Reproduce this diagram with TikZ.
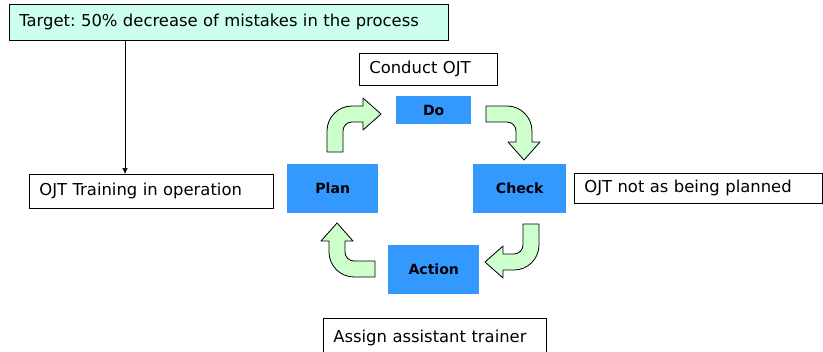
\documentclass[tikz,border=0pt]{standalone}
\usepackage{fontspec}
\setmainfont{DejaVu Sans}
\usetikzlibrary{arrows.meta}
\frenchspacing
\definecolor{mint}{RGB}{204,255,238}
\definecolor{pdcablue}{RGB}{51,153,255}
\definecolor{bendgreen}{RGB}{204,255,204}
\tikzset{
  note/.style={draw, fill=white, line width=0.6pt, anchor=north west, align=left,
    inner xsep=0.3cm, inner ysep=0pt, font=\fontsize{14}{16}\selectfont},
  pdcabox/.style={fill=pdcablue, anchor=north west, inner sep=0pt,
    font=\fontsize{12}{14}\selectfont\bfseries},
  bendfill/.style={draw, fill=bendgreen, line width=0.7pt, line join=round},
  bentarrow/.pic={
    \draw[bendfill] (-8,38) -- (-8,17) .. controls (-8,3.2) and (3.2,-8) .. (17,-8)
      -- (28,-8) -- (28,-16) -- (46,0) -- (28,16) -- (28,8) -- (17,8)
      .. controls (12,8) and (8,12) .. (8,17) -- (8,38) -- cycle;
  }
}

\begin{document}
\begin{tikzpicture}[x=0.03cm, y=-0.03cm, >={Latex[length=5pt,width=4.5pt]}]
    \clip (0,0) rectangle (823,351);
    % Target and notes
    \node[note, fill=mint, text width=12.57cm, minimum height=1.08cm] (target) at (9,4)
      {Target: 50\% decrease of mistakes in the process};
    \node[note, text width=6.72cm, minimum height=1.02cm] (training) at (29,174)
      {OJT Training in operation};
    \node[note, text width=3.54cm, minimum height=0.96cm] (conduct) at (359,53) {Conduct OJT};
    \node[note, text width=6.84cm, minimum height=0.9cm] (notplanned) at (574,173)
      {OJT not as being planned};
    \node[note, text width=6.09cm, minimum height=1.2cm] (assign) at (323,318)
      {Assign assistant trainer};
    % PDCA boxes
    \node[pdcabox, minimum width=2.73cm, minimum height=1.47cm] (plan) at (287,164) {Plan};
    \node[pdcabox, minimum width=2.25cm, minimum height=0.84cm] (do) at (396,96) {Do};
    \node[pdcabox, minimum width=2.79cm, minimum height=1.47cm] (check) at (473,164) {Check};
    \node[pdcabox, minimum width=2.73cm, minimum height=1.47cm] (action) at (388,245) {Action};
    % Bent arrows of the cycle
    \pic at (335,114) {bentarrow};
    \pic[rotate=-90] at (524,114) {bentarrow};
    \pic[rotate=180] at (531,262) {bentarrow};
    \pic[rotate=90] at (337,269) {bentarrow};
    % Target to training
    \coordinate (drop) at (125,0);
    \draw[->] (target.south -| drop) -- (training.north -| drop);
\end{tikzpicture}
\end{document}
